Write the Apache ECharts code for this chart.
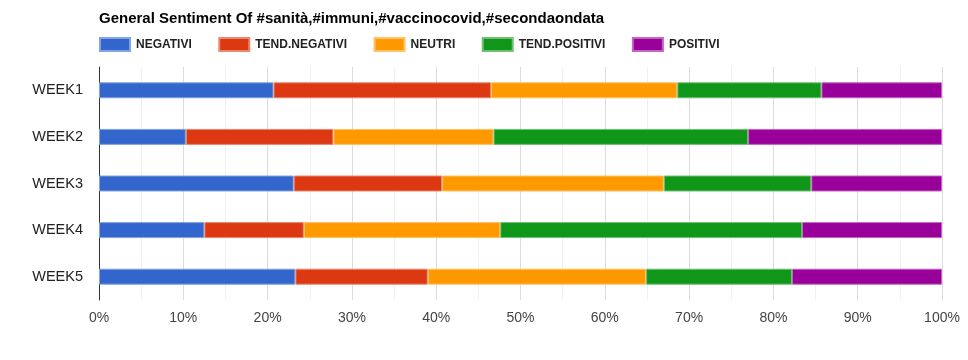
<!DOCTYPE html>
<html>
<head>
<meta charset="utf-8">
<script src="https://cdn.jsdelivr.net/npm/echarts@6/dist/echarts.min.js"></script>
<style>
html,body{margin:0;padding:0;background:#fff;}
#chart{width:968px;height:360px;}
</style>
</head>
<body>
<div id="chart"></div>
<script>
var categories = ['WEEK1', 'WEEK2', 'WEEK3', 'WEEK4', 'WEEK5'];
var negativi = [20.7, 10.3, 23.1, 12.5, 23.3];
var tendNegativi = [25.8, 17.5, 17.6, 11.8, 15.7];
var neutri = [22.1, 19.0, 26.3, 23.3, 25.9];
var tendPositivi = [17.1, 30.2, 17.5, 35.8, 17.3];
var positivi = [14.3, 23.0, 15.5, 16.6, 17.8];
var seriesNames = ['NEGATIVI', 'TEND.NEGATIVI', 'NEUTRI', 'TEND.POSITIVI', 'POSITIVI'];
var xTicks = [0, 10, 20, 30, 40, 50, 60, 70, 80, 90, 100];

var colors = ['#3366cc', '#dc3912', '#ff9900', '#109618', '#990099'];
var borders = ['#85a3e0', '#ea8871', '#ffc266', '#70c074', '#c266c2'];
var values = [negativi, tendNegativi, neutri, tendPositivi, positivi];
var font = 'Arial, "Liberation Sans", sans-serif';

var chart = echarts.init(document.getElementById('chart'), null, {renderer: 'canvas'});
chart.setOption({
  animation: false,
  color: colors,
  title: {
    text: 'General Sentiment Of #sanità,#immuni,#vaccinocovid,#secondaondata',
    left: 99, top: 11, padding: 0,
    textStyle: {fontFamily: font, fontSize: 15, fontWeight: 'bold', color: '#000'}
  },
  legend: {
    left: 99, top: 37, padding: 0,
    icon: 'rect', itemWidth: 30, itemHeight: 13, itemGap: 26.5,
    data: seriesNames,
    textStyle: {fontFamily: font, fontSize: 12, fontWeight: 'bold', color: '#222', padding: [0, 0, 0, 1]}
  },
  grid: {left: 99, right: 26, top: 67, bottom: 60, containLabel: false},
  xAxis: {
    type: 'value', min: xTicks[0], max: xTicks[xTicks.length - 1], interval: 10,
    axisLine: {show: false}, axisTick: {show: false},
    axisLabel: {formatter: '{value}%', fontFamily: font, fontSize: 14, color: '#444', margin: 11},
    splitLine: {show: true, lineStyle: {color: '#dcdcdc', width: 1}},
    minorTick: {show: false, splitNumber: 2},
    minorSplitLine: {show: true, lineStyle: {color: '#f0f0f0', width: 1}}
  },
  yAxis: {
    type: 'category', data: categories, inverse: true,
    axisLine: {show: true, lineStyle: {color: '#333', width: 1}},
    axisTick: {show: false},
    axisLabel: {fontFamily: font, fontSize: 14.5, color: '#222', margin: 16}
  },
  series: seriesNames.map(function (name, i) {
    return {
      name: name, type: 'bar', stack: 'total', barWidth: 16,
      data: values[i],
      itemStyle: {color: colors[i], borderColor: borders[i], borderWidth: 1},
      emphasis: {disabled: true}
    };
  })
});
</script>
</body>
</html>
